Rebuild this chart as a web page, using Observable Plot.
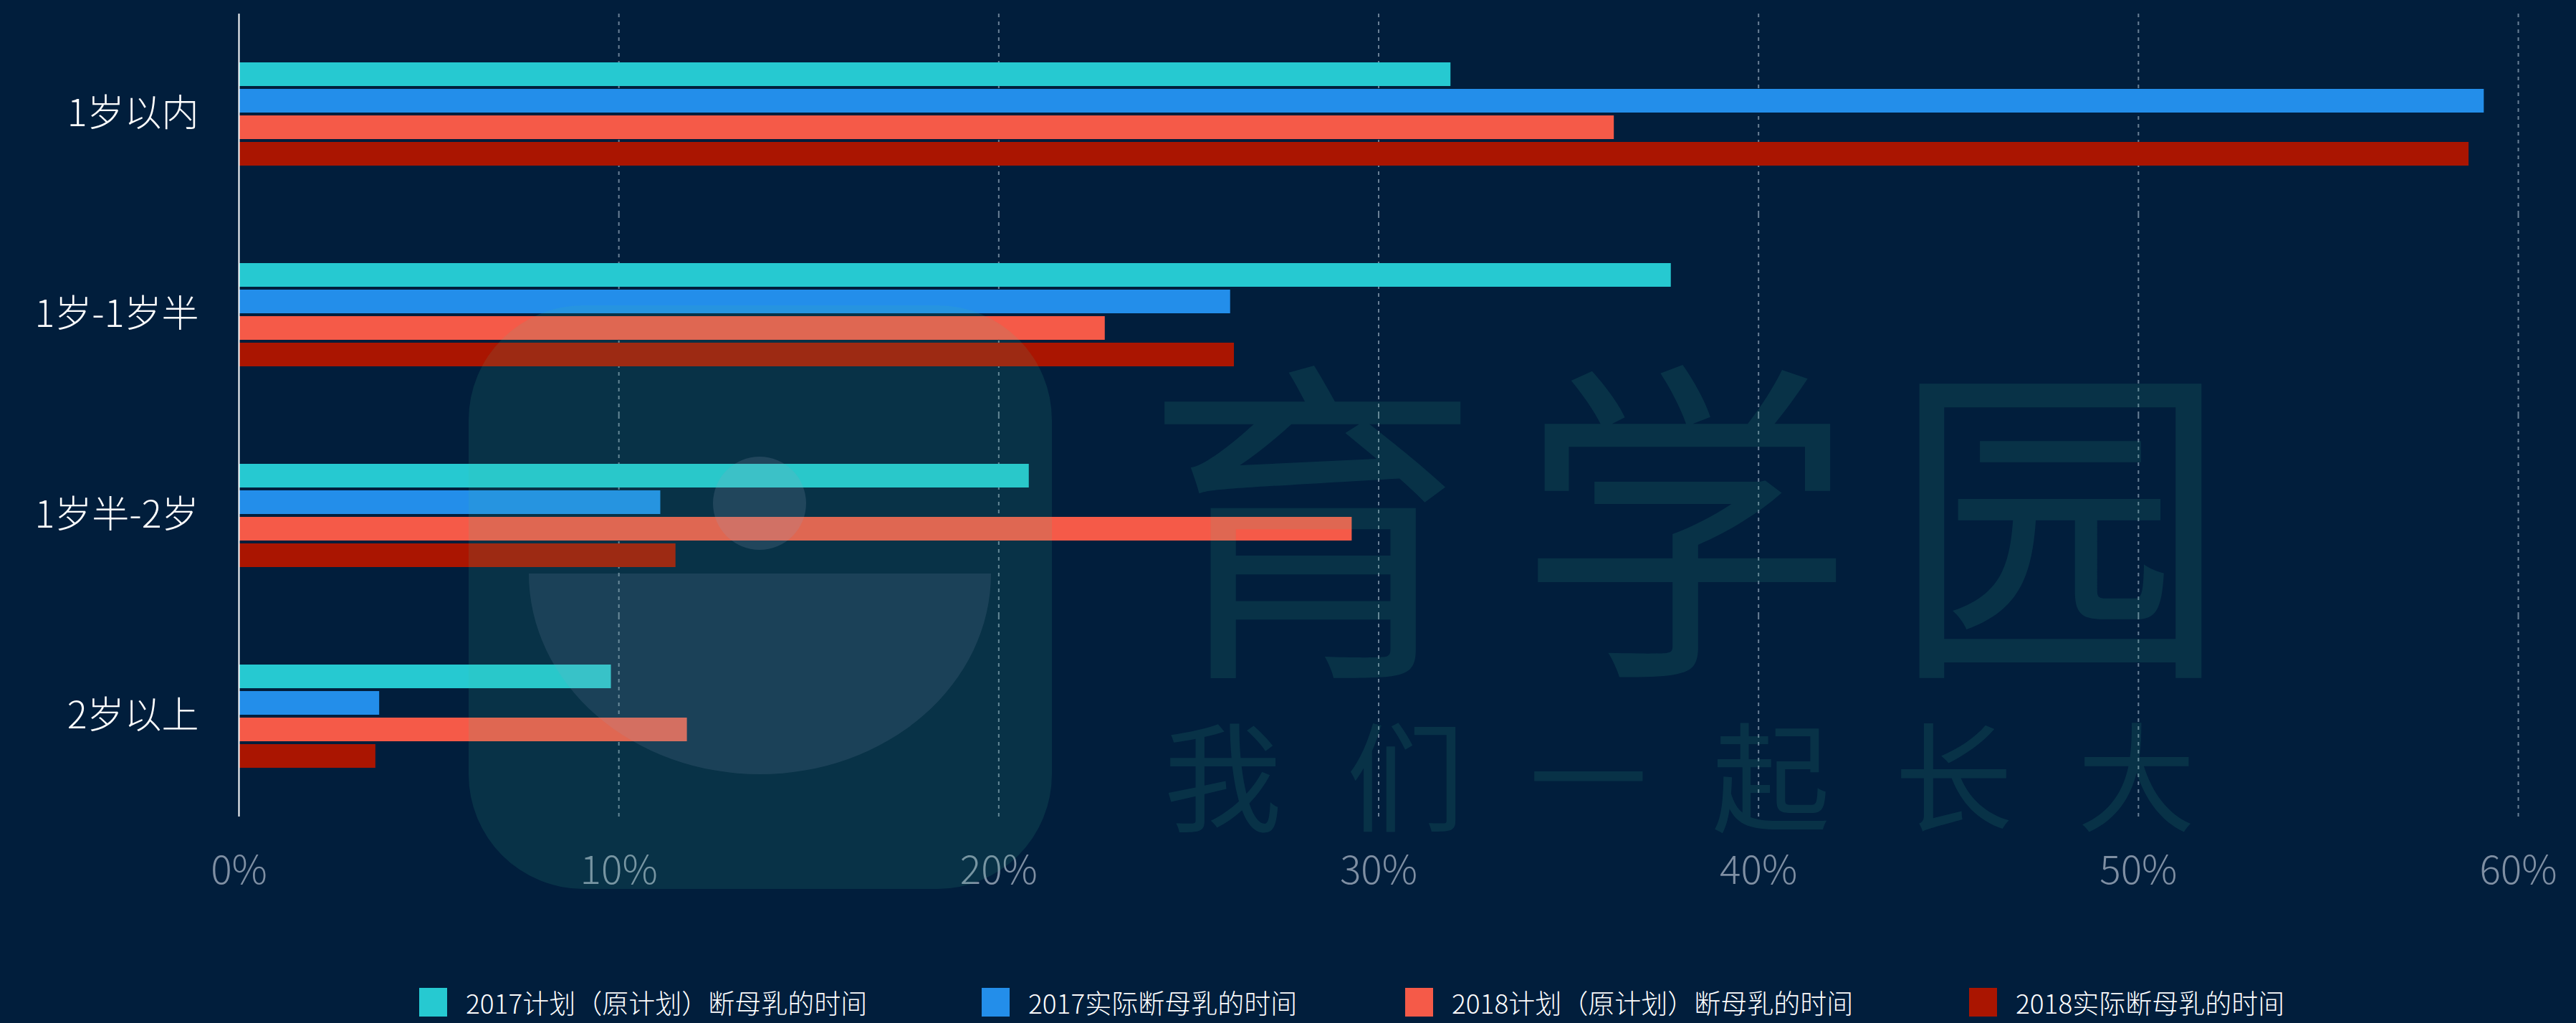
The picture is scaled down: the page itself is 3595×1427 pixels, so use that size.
<!DOCTYPE html>
<html>
<head>
<meta charset="utf-8">
<script src="https://cdn.jsdelivr.net/npm/d3@7"></script>
<script src="https://cdn.jsdelivr.net/npm/@observablehq/plot@0.6"></script>
<style>
html, body { margin: 0; padding: 0; background: #011e3c; }
#wrap { position: relative; width: 3595px; height: 1427px; overflow: hidden; background: #011e3c;
  font-family: "Noto Sans CJK SC", "Noto Sans", sans-serif; }
#chart { position: absolute; left: 0; top: 0; }
.legend-item { position: absolute; top: 1378px; height: 40px; display: flex; align-items: center; white-space: nowrap; }
.legend-item .sw { width: 39px; height: 40px; margin-right: 26px; flex: none; }
.legend-item .lb { display: inline-block; height: 40px; color: #ffffff; font-size: 37px; font-weight: 300; line-height: 40px; }
.wm { position: absolute; pointer-events: none; }
#wm-rect { left: 654px; top: 426px; width: 814px; height: 814px; border-radius: 160px; background: rgba(66,197,154,0.12); }
#wm-dot { left: 995px; top: 637px; width: 130px; height: 130px; border-radius: 50%; background: rgba(150,160,190,0.18); }
#wm-bowl { left: 738px; top: 800px; width: 645px; height: 280px; border-radius: 0 0 50% 50% / 0 0 100% 100%; background: rgba(150,160,190,0.14); }
#wm-t1 { left: 1596px; top: 468px; font-size: 470px; line-height: 1; letter-spacing: 52px; color: rgba(66,197,154,0.12); white-space: nowrap; }
#wm-t2 { left: 1624px; top: 1010px; font-size: 165px; line-height: 0.8; letter-spacing: 90px; color: rgba(66,197,154,0.12); white-space: nowrap; }
</style>
</head>
<body>
<div id="wrap">
  <div id="chart"></div>
  <div id="legend"></div>
  <div class="wm" id="wm-rect"></div>
  <div class="wm" id="wm-dot"></div>
  <div class="wm" id="wm-bowl"></div>
  <div class="wm" id="wm-t1">育学园</div>
  <div class="wm" id="wm-t2">我们一起长大</div>
</div>
<script>
// ---- data ----
const categories = ["1岁以内", "1岁-1岁半", "1岁半-2岁", "2岁以上"];
const series = [
  "2017计划（原计划）断母乳的时间",
  "2017实际断母乳的时间",
  "2018计划（原计划）断母乳的时间",
  "2018实际断母乳的时间"
];
const plan2017   = [31.9, 37.7, 20.8, 9.8];
const actual2017 = [59.1, 26.1, 11.1, 3.7];
const plan2018   = [36.2, 22.8, 29.3, 11.8];
const actual2018 = [58.7, 26.2, 11.5, 3.6];
const xTicks = [0, 10, 20, 30, 40, 50, 60];
const colors = ["#26C9D1", "#238EEA", "#F55A48", "#AA1501"];

const table = [];
[plan2017, actual2017, plan2018, actual2018].forEach((vals, si) =>
  vals.forEach((v, ci) => table.push({category: categories[ci], series: series[si], value: v}))
);

const chart = Plot.plot({
  width: 3595,
  height: 1290,
  marginTop: 17,
  marginBottom: 150,
  marginLeft: 333,
  marginRight: 81,
  style: {background: "transparent", fontFamily: "'Noto Sans CJK SC', 'Noto Sans', sans-serif", overflow: "visible"},
  x: {domain: [0, 60], axis: null},
  fy: {domain: categories, padding: 0, axis: null},
  y: {domain: series, axis: null, paddingInner: 0.1, paddingOuter: 1.82},
  color: {domain: series, range: colors},
  marks: [
    Plot.gridX(xTicks.slice(1), {stroke: "#6a8096", strokeOpacity: 1, strokeWidth: 2, strokeDasharray: "5,6"}),
    Plot.barX(table, {fy: "category", y: "series", x: "value", fill: "series"}),
    Plot.ruleX([0], {stroke: "#ffffff", strokeWidth: 2}),
    Plot.axisX(xTicks, {anchor: "bottom", tickSize: 0, tickPadding: 54, label: null,
      tickFormat: d => d + "%", fontSize: 55, fill: "#7f8fa3", fontWeight: 300}),
    Plot.axisFy({anchor: "left", tickSize: 0, tickPadding: 56, label: null,
      fontSize: 52, fill: "#ffffff", fontWeight: 300})
  ]
});
document.getElementById("chart").appendChild(chart);

// ---- legend ----
const legendLefts = [585, 1370, 1961, 2748];
const legend = document.getElementById("legend");
series.forEach((s, i) => {
  const item = document.createElement("div");
  item.className = "legend-item";
  item.style.left = legendLefts[i] + "px";
  const sw = document.createElement("span");
  sw.className = "sw";
  sw.style.background = colors[i];
  const lb = document.createElement("span");
  lb.className = "lb";
  lb.textContent = s;
  item.appendChild(sw);
  item.appendChild(lb);
  legend.appendChild(item);
});
</script>
</body>
</html>
